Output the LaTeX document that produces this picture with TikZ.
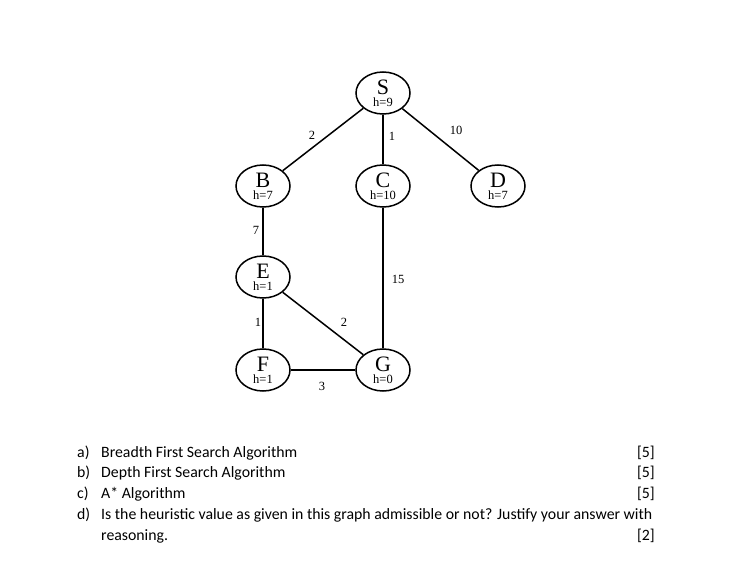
\documentclass[tikz,border=0pt]{standalone}
\usepackage{fontspec}
\setmainfont{Liberation Serif}
\newfontfamily\qfont{Carlito}
\usetikzlibrary{shapes.geometric}
\begin{document}
\begin{tikzpicture}[x=1pt,y=-1pt,
  gnode/.style={ellipse,draw,line width=1.5pt,minimum width=54pt,minimum height=42pt,inner sep=0pt,align=center},
  edge/.style={line width=1.5pt},
  wt/.style={font=\fontsize{12.5}{13}\selectfont},
  qtext/.style={font=\qfont\fontsize{15.8}{17}\selectfont,anchor=base west,inner sep=0pt},
  marktext/.style={font=\qfont\fontsize{15.8}{17}\selectfont,anchor=base east,inner sep=0pt}]
\useasboundingbox (0,0) rectangle (736,572);
\newcommand{\nd}[2]{{\fontsize{22}{16}\selectfont #1}\\{\fontsize{12.5}{11}\selectfont #2}}
\node[gnode] (S) at (383,93) {\nd{S}{h=9}};
\node[gnode] (B) at (263,186) {\nd{B}{h=7}};
\node[gnode] (C) at (383,186) {\nd{C}{h=10}};
\node[gnode] (D) at (498,186) {\nd{D}{h=7}};
\node[gnode] (E) at (263,277) {\nd{E}{h=1}};
\node[gnode] (F) at (263,370) {\nd{F}{h=1}};
\node[gnode] (G) at (383,370) {\nd{G}{h=0}};
\draw[edge] (S) -- (B);
\draw[edge] (S) -- (C);
\draw[edge] (S) -- (D);
\draw[edge] (B) -- (E);
\draw[edge] (C) -- (G);
\draw[edge] (E) -- (F);
\draw[edge] (E) -- (G);
\draw[edge] (F) -- (G);
\node[wt] (w1) at (312,135) {2};
\node[wt] (w2) at (392,136) {1};
\node[wt] (w3) at (456,130) {10};
\node[wt] (w4) at (256,230) {7};
\node[wt] (w5) at (398,279) {15};
\node[wt] (w6) at (258,322) {1};
\node[wt] (w7) at (344,322) {2};
\node[wt] (w8) at (322,386) {3};
\node[qtext] (a1) at (77,457) {a)};
\node[qtext] (a2) at (101,457) {Breadth First Search Algorithm};
\node[marktext] (a3) at (655,457) {[5]};
\node[qtext] (b1) at (77,477) {b)};
\node[qtext] (b2) at (101,477) {Depth First Search Algorithm};
\node[marktext] (b3) at (655,477) {[5]};
\node[qtext] (c1) at (77,498) {c)};
\node[qtext] (c2) at (101,498) {A* Algorithm};
\node[marktext] (c3) at (655,498) {[5]};
\node[qtext] (d1) at (77,519) {d)};
\node[qtext] (d2) at (101,519) {Is the heuristic value as given in this graph admissible or not? Justify your answer with};
\node[qtext] (d3) at (101,540) {reasoning.};
\node[marktext] (d4) at (655,540) {[2]};
\end{tikzpicture}
\end{document}
